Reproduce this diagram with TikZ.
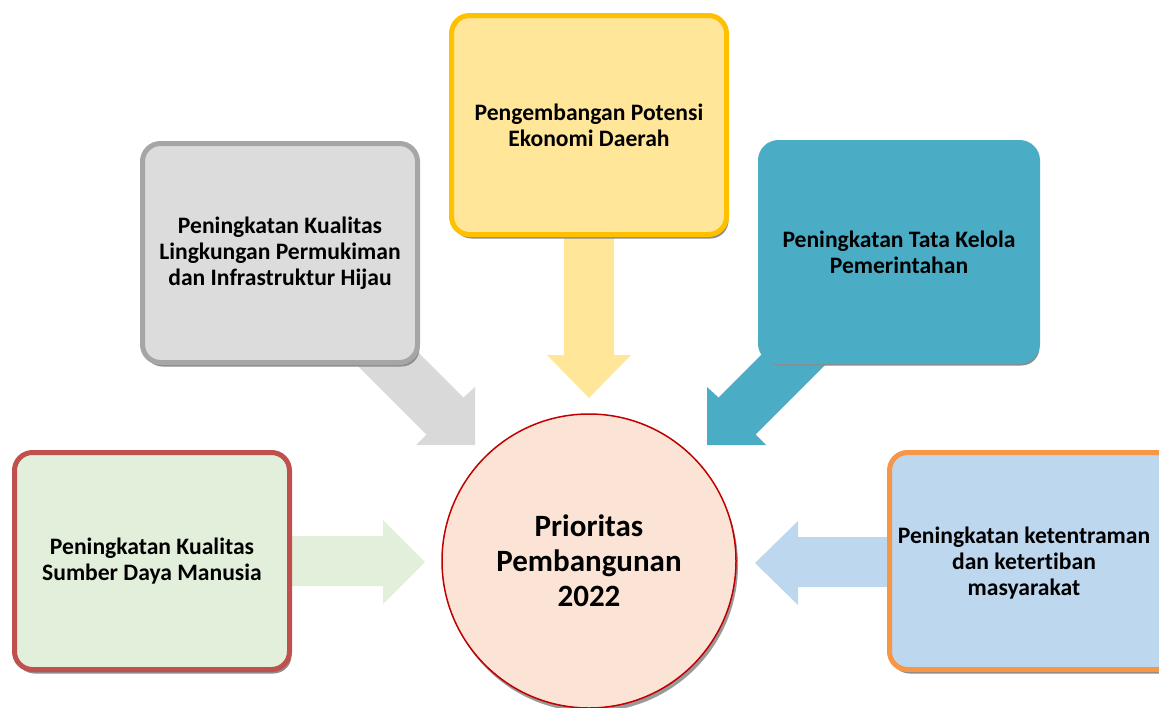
\documentclass[tikz,border=0pt]{standalone}
\usepackage{fontspec}
\setmainfont{Carlito}[Ligatures=NoCommon]
\usetikzlibrary{shadows,backgrounds,calc}
\definecolor{grayfill}{HTML}{DCDCDC}
\definecolor{grayline}{HTML}{A6A6A6}
\definecolor{grayarrow}{HTML}{D9D9D9}
\definecolor{yelfill}{HTML}{FFE699}
\definecolor{yelline}{HTML}{FFC000}
\definecolor{tealfill}{HTML}{4BACC6}
\definecolor{greenfill}{HTML}{E2EFDA}
\definecolor{redline}{HTML}{C0504D}
\definecolor{bluefill}{HTML}{BDD7EE}
\definecolor{orangeline}{HTML}{F79646}
\definecolor{circfill}{HTML}{FBE4D6}
\definecolor{circline}{HTML}{C00000}
\tikzset{
  boxtext/.style={align=center, inner sep=0pt, font=\fontsize{23.6}{26}\selectfont\bfseries},
  boxbase/.style={boxtext, rounded corners=18pt, line width=5pt,
    minimum width=275pt, minimum height=219pt,
    drop shadow={shadow xshift=2pt, shadow yshift=-4pt, fill=black!45, opacity=1}},
}
\begin{document}
\begin{tikzpicture}[x=1pt,y=-1pt]
\useasboundingbox (0,0) rectangle (1159,707);
\clip (0,0) rectangle (1159,707);
% boxes
\node[boxbase, fill=grayfill, draw=grayline] (gray) at (280,253)
  {Peningkatan Kualitas\\Lingkungan Permukiman\\dan Infrastruktur Hijau};
\node[boxbase, fill=yelfill, draw=yelline] (yel) at (589,125)
  {Pengembangan Potensi\\Ekonomi Daerah};
\node[boxbase, fill=tealfill, draw=tealfill, minimum width=277pt] (teal) at (899,252)
  {Peningkatan Tata Kelola\\Pemerintahan};
\node[boxbase, fill=greenfill, draw=redline, minimum height=217pt] (green) at (152,561)
  {Peningkatan Kualitas\\Sumber Daya Manusia};
\node[boxbase, fill=bluefill, draw=orangeline, minimum width=290pt, minimum height=217pt] (blue) at (1034.5,561) {};
\node[boxtext] (bluetext) at (1024,563)
  {Peningkatan ketentraman\\dan ketertiban\\masyarakat};
\node[circle, fill=circfill, draw=circline, line width=1.5pt, minimum size=294pt,
  inner sep=0pt, align=center, font=\fontsize{31}{35}\selectfont\bfseries,
  drop shadow={shadow xshift=2pt, shadow yshift=-4pt, fill=black!40, opacity=1}] (goal) at (589,561)
  {Prioritas\\Pembangunan\\2022};
% block arrows behind
\begin{scope}[on background layer]
  % yellow, downward
  \fill[yelfill] ($(yel.south)+(-25,-20)$) -- ($(yel.south)+(25,-20)$) -- ($(yel.south)+(25,118)$)
    -- ($(yel.south)+(42,118)$) -- (goal.north |- 0,398) -- ($(yel.south)+(-42,118)$)
    -- ($(yel.south)+(-25,118)$) -- cycle;
  % green, rightward
  \fill[greenfill] ($(green.east)+(-20,-25)$) -- (383,536) -- (383,520) -- (425,562)
    -- (383,604) -- (383,586) -- ($(green.east)+(-20,25)$) -- cycle;
  % blue, leftward
  \fill[bluefill] ($(blue.west)+(20,-24)$) -- (798,537) -- (798,521) -- (755,563)
    -- (798,605) -- (798,587) -- ($(blue.west)+(20,26)$) -- cycle;
  % teal, south-west
  \fill[tealfill] (808,308) -- (718.5,397.5) -- (707,387) -- (707,445) -- (766,445)
    -- (755.5,434.5) -- (845,345) -- cycle;
  % gray, south-east
  \fill[grayarrow] (374,308) -- (463.5,397.5) -- (475,387) -- (475,445) -- (416,445)
    -- (426.5,434.5) -- (337,345) -- cycle;
\end{scope}
\end{tikzpicture}
\end{document}
